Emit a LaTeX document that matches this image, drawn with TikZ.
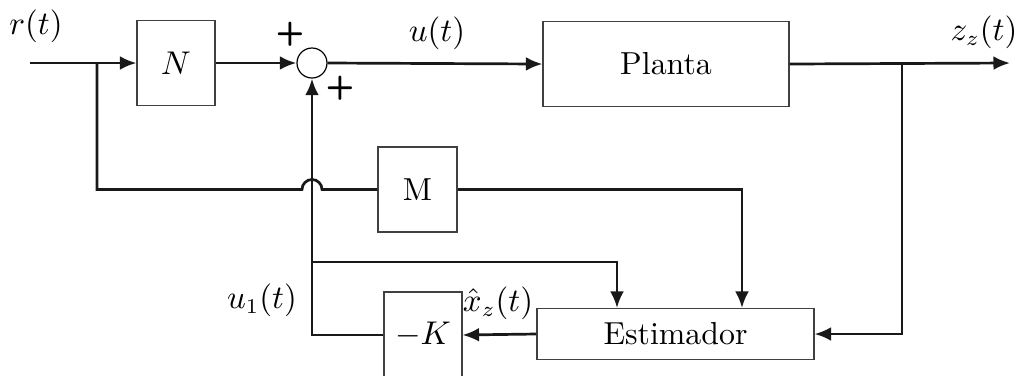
\documentclass[tikz,border=0pt]{standalone}
\usetikzlibrary{arrows.meta}
\begin{document}
\begin{tikzpicture}[x=0.333pt,y=-0.333pt,
  every node/.style={font=\fontsize{10.6pt}{12pt}\selectfont},
  blk/.style={draw=black!75,line width=0.35pt,inner sep=0pt,fill=white},
  wire/.style={line width=0.9pt,black!90},
  arr/.style={wire,-{Latex[length=5.5pt,width=4.6pt]}},
  sgn/.style={font=\bfseries\sffamily\fontsize{11pt}{12pt}\selectfont,inner sep=0pt}]
\clip (0,0) rectangle (1021,375);
\node[blk,minimum width=78*0.333pt,minimum height=85*0.333pt] (N) at (176,63) {$N$};
\node[draw=black,line width=0.4pt,circle,minimum size=30*0.333pt,inner sep=0pt] (sum) at (312,63) {};
\node[blk,minimum width=246*0.333pt,minimum height=85*0.333pt] (planta) at (666,64) {Planta};
\node[blk,minimum width=79*0.333pt,minimum height=85*0.333pt] (M) at (417.5,189.5) {M};
\node[blk,minimum width=277*0.333pt,minimum height=51*0.333pt] (est) at (675.5,334) {Estimador};
\node[blk,minimum width=78*0.333pt,minimum height=86*0.333pt] (K) at (423,335) {$-K$};
\coordinate (in) at (30,63);
\coordinate (b1) at (97,63);
\coordinate (out) at (1010,63);
\coordinate (b2) at (902,63);
\coordinate (x1) at (617,0);
\coordinate (x2) at (742,0);
\coordinate (j1) at (312,262);
\coordinate (h1) at (302,189.5);
% main path
\draw[arr] (in) -- (N.west);
\draw[arr] (N.east) -- (sum.west);
\draw[arr] (sum.east) -- (planta.west);
\draw[arr] (planta.east) -- (out);
% reference branch through M with hop
\draw[wire] (b1) |- (h1) arc[start angle=180,end angle=0,radius=10*0.333pt] -- (M.west);
\draw[arr] (M.east) -| (x2 |- est.north);
% output feedback
\draw[arr] (b2) |- (est.east);
% estimator to -K
\draw[arr] (est.west) -- (K.east);
\draw[arr] (K.west) -| (sum.south);
\draw[arr] (j1) -| (x1 |- est.north);
% labels
\node at (36,26) {$r(t)$};
\node at (437,33) {$u(t)$};
\node at (984,32) {$z_z(t)$};
\node at (262,300) {$u_1(t)$};
\node at (498,303) {$\hat{x}_z(t)$};
\node[sgn] at (290,34) {+};
\node[sgn] at (340,88) {+};
\end{tikzpicture}
\end{document}
